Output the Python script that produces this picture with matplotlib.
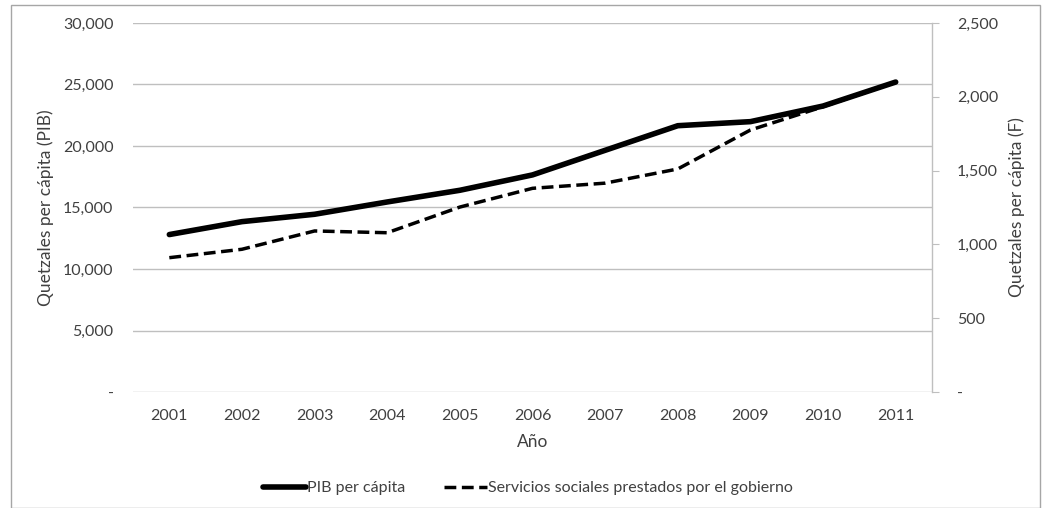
import matplotlib
matplotlib.use("Agg")
import matplotlib.pyplot as plt
from matplotlib.ticker import FuncFormatter
from matplotlib.patches import Rectangle

years = ["2001", "2002", "2003", "2004", "2005", "2006", "2007", "2008", "2009", "2010", "2011"]
pib = [12800, 13850, 14450, 15450, 16400, 17650, 19650, 21650, 21980, 23250, 25200]
servicios = [910, 967, 1091, 1079, 1253, 1380, 1415, 1511, 1775, 1933, 2100]

plt.rcParams['font.family'] = ['Lato', 'DejaVu Sans']
fs = 11.5
grid_c = '#bfbfbf'
txt_c = '#404040'

fig = plt.figure(figsize=(10.45, 5.08), dpi=100)
fig.patches.append(Rectangle((11/1045, 0), 1029/1045, 1 - 5/508, transform=fig.transFigure,
                             fill=False, edgecolor='#a6a6a6', linewidth=1))
ax = fig.add_axes([133/1045, 1 - 392/508, 799/1045, 369/508])
ax2 = ax.twinx()

x = list(range(len(years)))
l1, = ax.plot(x, pib, color='black', linewidth=4.0, solid_capstyle='round', solid_joinstyle='round',
              label='PIB per cápita', zorder=3)
l2, = ax2.plot(x, servicios, color='black', linewidth=2.5, dashes=(3.4, 1.6),
               label='Servicios sociales prestados por el gobierno', zorder=2)

ax.set_xlim(-0.5, len(years) - 0.5)
ax.set_ylim(0, 30000)
ax2.set_ylim(0, 2500)
ax.set_yticks(range(0, 30001, 5000))
ax2.set_yticks(range(0, 2501, 500))
fmt = FuncFormatter(lambda v, p: '-' if v == 0 else f'{int(v):,}')
ax.yaxis.set_major_formatter(fmt)
ax2.yaxis.set_major_formatter(fmt)
ax.set_xticks(x)
ax.set_xticklabels(years)

ax.grid(axis='y', color=grid_c, linewidth=1)
ax.set_axisbelow(True)
for s in ['top', 'left', 'right', 'bottom']:
    ax.spines[s].set_visible(False)
for s in ['top', 'left', 'bottom']:
    ax2.spines[s].set_visible(False)
ax2.spines['right'].set_color(grid_c)
ax2.spines['right'].set_linewidth(1)

ax.tick_params(axis='y', length=0, pad=14, labelsize=fs, labelcolor=txt_c)
ax.tick_params(axis='x', length=0, pad=12, labelsize=fs, labelcolor=txt_c)
ax2.tick_params(axis='y', length=5, color=grid_c, pad=13, labelsize=fs, labelcolor=txt_c)

ax.set_ylabel('Quetzales per cápita (PIB)', fontsize=12.5, color=txt_c, labelpad=6.5)
ax2.set_ylabel('Quetzales per cápita (F)', fontsize=12.5, color=txt_c, labelpad=7)
ax.set_xlabel('Año', fontsize=12.5, color=txt_c, labelpad=8)

leg = fig.legend(handles=[l1, l2], loc='center', bbox_to_anchor=(0.505, 1 - 488/508), ncol=2,
                 frameon=False, fontsize=fs, handlelength=2.7, handletextpad=0.05, columnspacing=2.4)
for t in leg.get_texts():
    t.set_color(txt_c)

fig.savefig('out.png', dpi=100)
